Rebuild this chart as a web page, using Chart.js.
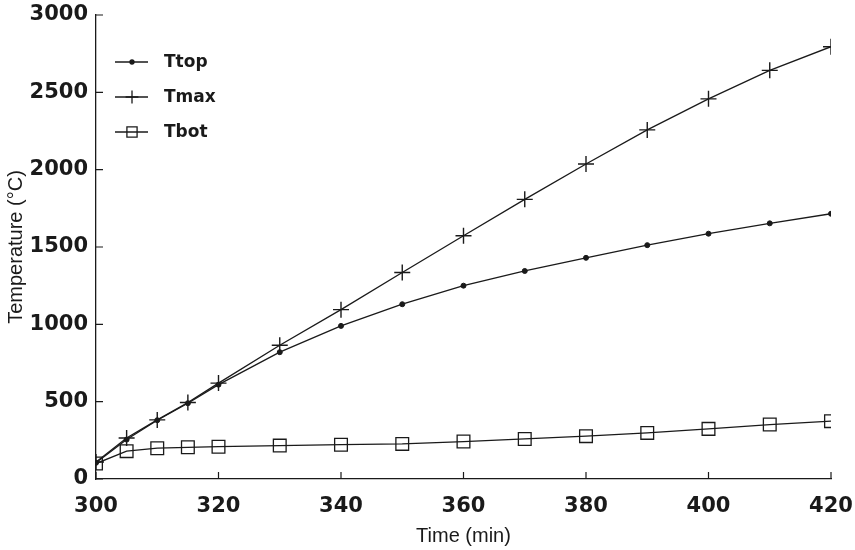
<!DOCTYPE html>
<html>
<head>
<meta charset="utf-8">
<script src="https://cdn.jsdelivr.net/npm/chart.js@4.4.1/dist/chart.umd.min.js"></script>
<style>
  html, body { margin: 0; padding: 0; background: #fff; }
  #wrap { width: 855px; height: 550px; }
</style>
</head>
<body>
<div id="wrap"><canvas id="temp-chart" width="855" height="550"></canvas></div>
<script>
// time axis (min) and measured temperatures (°C)
const times = [300, 305, 310, 315, 320, 330, 340, 350, 360, 370, 380, 390, 400, 410, 420];
const tTop = [105, 255, 380, 490, 610, 820, 990, 1130, 1250, 1345, 1430, 1512, 1586, 1653, 1715];
const tMax = [110, 265, 382, 495, 620, 865, 1095, 1335, 1573, 1808, 2037, 2257, 2458, 2642, 2795];
const tBot = [100, 180, 199, 205, 209, 216, 222, 227, 242, 259, 277, 298, 324, 352, 374];
const xTicks = [300, 320, 340, 360, 380, 400, 420];
const yTicks = [0, 500, 1000, 1500, 2000, 2500, 3000];

const ink = '#1a1a1a';
const toPoints = (ys) => times.map((t, i) => ({ x: t, y: ys[i] }));

let ctx = document.getElementById('temp-chart').getContext('2d');

Chart.defaults.font.family = "'Liberation Sans', Arial, sans-serif";
Chart.defaults.color = ink;

// inward tick marks on both axes
const innerTicks = {
    id: 'innerTicks',
    afterDraw(chart) {
        const c = chart.ctx;
        const xs = chart.scales.x, ys = chart.scales.y;
        const area = chart.chartArea;
        c.save();
        c.strokeStyle = ink;
        c.lineWidth = 1.2;
        c.beginPath();
        xTicks.forEach(v => {
            const px = xs.getPixelForValue(v);
            c.moveTo(px, area.bottom);
            c.lineTo(px, area.bottom - 7);
        });
        yTicks.forEach(v => {
            const py = ys.getPixelForValue(v);
            c.moveTo(area.left, py);
            c.lineTo(area.left + 7, py);
        });
        c.stroke();
        c.restore();
    }
};

// legend drawn inside the plot, top-left
const innerLegend = {
    id: 'innerLegend',
    afterDraw(chart) {
        const c = chart.ctx;
        c.save();
        chart.data.datasets.forEach((ds, i) => {
            const y = 62 + i * 35;
            c.strokeStyle = ink;
            c.lineWidth = 1.3;
            c.beginPath();
            c.moveTo(115, y);
            c.lineTo(148, y);
            c.stroke();
            c.fillStyle = ds.pointStyle === 'rect' ? 'rgba(255,255,255,0)' : ink;
            Chart.helpers.drawPoint(c, {
                pointStyle: ds.pointStyle,
                radius: ds.pointRadius * 0.8,
                borderWidth: ds.pointBorderWidth
            }, 132, y);
            c.fillStyle = ink;
            c.font = "bold 17px 'DejaVu Sans', Arial, sans-serif";
            c.textBaseline = 'middle';
            c.fillText(ds.label, 164, y + 1);
        });
        c.restore();
    }
};

const tickFont = { family: "'DejaVu Sans', Arial, sans-serif", size: 21, weight: 'bold' };

let tempChart = new Chart(ctx, {
    type: 'line',
    data: {
        datasets: [{
            label: 'Ttop',
            data: toPoints(tTop),
            borderColor: ink,
            borderWidth: 1.3,
            pointStyle: 'circle',
            pointRadius: 2.5,
            pointBorderWidth: 1,
            pointBackgroundColor: ink,
            pointBorderColor: ink
        }, {
            label: 'Tmax',
            data: toPoints(tMax),
            borderColor: ink,
            borderWidth: 1.3,
            pointStyle: 'cross',
            pointRadius: 8,
            pointBorderWidth: 1.4,
            pointBorderColor: ink
        }, {
            label: 'Tbot',
            data: toPoints(tBot),
            borderColor: ink,
            borderWidth: 1.3,
            pointStyle: 'rect',
            pointRadius: 9,
            pointBorderWidth: 1.3,
            pointBackgroundColor: 'rgba(255,255,255,0)',
            pointBorderColor: ink
        }]
    },
    options: {
        responsive: false,
        animation: false,
        layout: {
            padding: { left: 0, top: 15, right: 24, bottom: 0 }
        },
        plugins: {
            legend: { display: false },
            tooltip: { enabled: false }
        },
        scales: {
            x: {
                type: 'linear',
                min: 300,
                max: 420,
                afterBuildTicks: (s) => { s.ticks = xTicks.map(v => ({ value: v })); },
                afterFit: (s) => { s.height = 71; s.paddingLeft = 0; s.paddingRight = 0; },
                grid: { display: false, drawTicks: false },
                border: { display: true, color: ink, width: 1.3 },
                ticks: {
                    padding: 15,
                    font: tickFont,
                    color: ink,
                    callback: (v) => String(v)
                },
                title: {
                    display: true,
                    text: 'Time (min)',
                    font: { size: 20 },
                    color: ink,
                    padding: { top: 0, bottom: 2 }
                }
            },
            y: {
                min: 0,
                max: 3000,
                afterBuildTicks: (s) => { s.ticks = yTicks.map(v => ({ value: v })); },
                afterFit: (s) => { s.width = 96; s.paddingTop = 0; s.paddingBottom = 0; },
                grid: { display: false, drawTicks: false },
                border: { display: true, color: ink, width: 1.3 },
                ticks: {
                    padding: 8,
                    font: tickFont,
                    color: ink,
                    callback: (v) => String(v)
                },
                title: {
                    display: true,
                    text: 'Temperature (°C)',
                    font: { size: 20 },
                    color: ink,
                    padding: { top: 4, bottom: 0 }
                }
            }
        }
    },
    plugins: [innerTicks, innerLegend]
});
</script>
</body>
</html>
